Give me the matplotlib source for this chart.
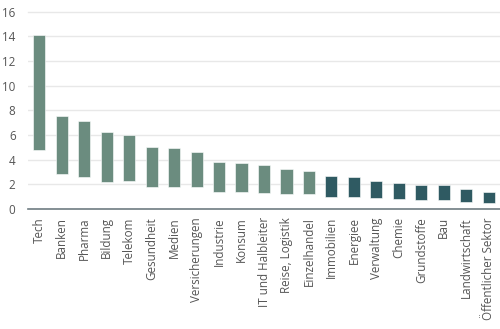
import matplotlib
matplotlib.use("Agg")
import matplotlib.pyplot as plt
import numpy as np

plt.rcParams['font.family'] = ['Open Sans', 'DejaVu Sans']

branches = ["Tech", "Banken", "Pharma", "Bildung", "Telekom", "Gesundheit", "Medien",
            "Versicherungen", "Industrie", "Konsum", "IT und Halbleiter", "Reise, Logistik",
            "Einzelhandel", "Immobilien", "Energiee", "Verwaltung", "Chemie", "Grundstoffe",
            "Bau", "Landwirtschaft", "Öffentlicher Sektor"]
low = [4.8, 2.8, 2.6, 2.2, 2.3, 1.8, 1.8, 1.8, 1.4, 1.4, 1.3, 1.2, 1.2,
       1.0, 1.0, 0.9, 0.8, 0.7, 0.7, 0.6, 0.5]
high = [14.1, 7.5, 7.1, 6.2, 6.0, 5.0, 4.9, 4.6, 3.8, 3.7, 3.6, 3.2, 3.1,
        2.7, 2.6, 2.3, 2.1, 1.9, 1.9, 1.6, 1.4]
# first 13 branches light, the rest dark
group = ["a"] * 13 + ["b"] * 8
palette = {"a": "#6b8c7f", "b": "#2f5a62"}

fig = plt.figure(figsize=(5, 3.29), dpi=100)
ax = fig.add_axes([0.056, 0.365, 0.944, 0.6])

x = np.arange(len(branches))
ax.bar(x, np.array(high) - np.array(low), bottom=low, width=0.54,
       color=[palette[g] for g in group], edgecolor="white", linewidth=0.4, zorder=3)

ax.set_xlim(-0.5, len(branches) - 0.5)
ax.set_ylim(0, 16)
ax.set_yticks(range(0, 17, 2))
ax.grid(axis="y", color="#e8e8e8", linewidth=1, zorder=0)
for s in ["top", "right", "left"]:
    ax.spines[s].set_visible(False)
ax.spines["bottom"].set_color("#6f7d82")
ax.spines["bottom"].set_linewidth(1.2)
ax.spines["bottom"].set_zorder(4)

ax.set_xticks(x)
ax.set_xticklabels(branches, rotation=90)
ax.tick_params(axis="both", length=0, labelsize=8.4, labelcolor="#555555")
ax.tick_params(axis="x", pad=6)
ax.tick_params(axis="y", pad=9)
for t in ax.get_yticklabels():
    t.set_clip_on(False)
ax.yaxis.get_gridlines()[-1].set_clip_on(False)

fig.savefig("out.png", dpi=100)
